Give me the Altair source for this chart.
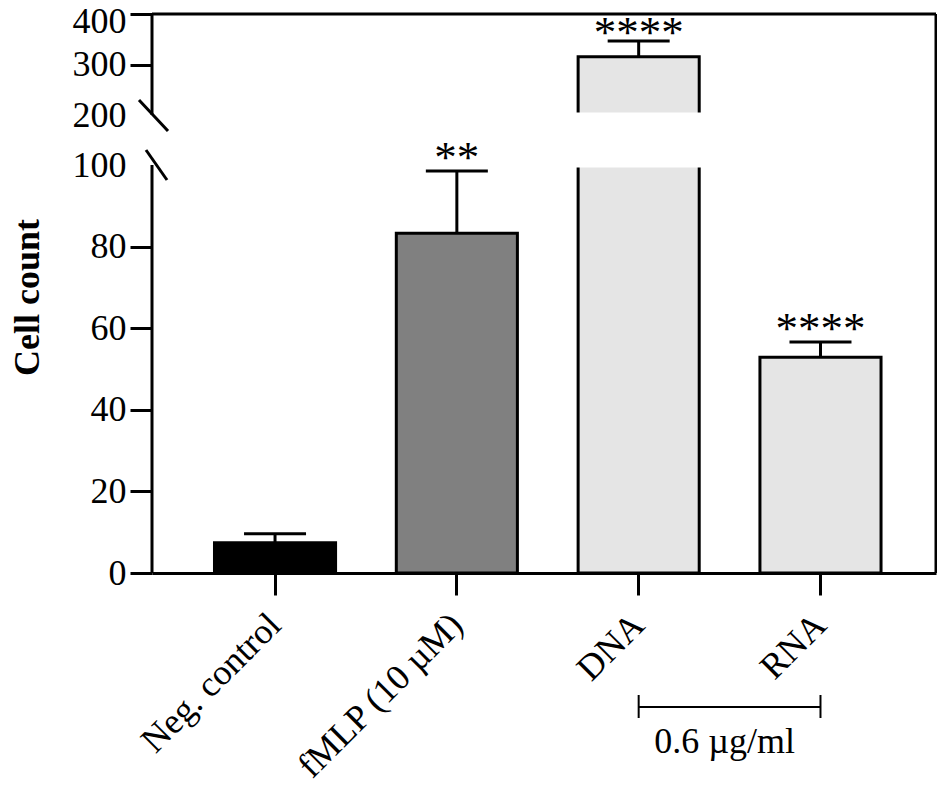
import altair as alt
import pandas as pd

# ---------------- data ----------------
categories = ["Neg. control", "fMLP (10 µM)", "DNA", "RNA"]
means = [7.4, 83.3, 315.5, 52.9]
err_top = [9.6, 98.5, 346.5, 56.6]
stars = ["", "**", "****", "****"]
fills = ["#000000", "#808080", "#e5e5e5", "#e5e5e5"]

y_ticks = [0, 20, 40, 60, 80, 100, 200, 300, 400]
break_lo, break_hi, y_top = 100, 200, 400
bracket_groups = ["DNA", "RNA"]
bracket_label = "0.6 µg/ml"

# ---------------- layout / style ----------------
W, H = 784, 559
Y_RANGE = [H, 151, 101, 0]          # pixel range of the broken axis
FONT = "Liberation Serif"

df = pd.DataFrame({"group": categories, "mean": means, "top": err_top, "stars": stars})
segs = pd.DataFrame({"lo": [0, break_hi], "hi": [break_lo, y_top]})
br = pd.DataFrame({"g": bracket_groups})
one = pd.DataFrame({"k": [1]})

yscale = alt.Scale(domain=[0, break_lo, break_hi, y_top], range=Y_RANGE, nice=False)
xscale = alt.Scale(domain=categories, paddingInner=0.334, paddingOuter=0.323, align=0.532)

yaxis = alt.Axis(
    values=y_ticks, domain=False, grid=False, labelOverlap=False,
    tickSize=22, tickWidth=3, tickColor="black",
    tickOpacity={"condition": {"test": f"datum.value == {break_lo} || datum.value == {break_hi}", "value": 0}, "value": 1},
    labelOffset={"condition": {"test": f"datum.value == {y_top}", "value": 7}, "value": 0},
    labelFont=FONT, labelFontSize=36, labelColor="black", labelPadding=4,
    title="Cell count", titleFont=FONT, titleFontSize=36, titleFontWeight="bold",
    titleColor="black", titleX=-114, titleY=283, titleBaseline="alphabetic", titleAngle=270,
)
xaxis = alt.Axis(
    labelAngle=-45, labelAlign="right", labelBaseline="top",
    labelFont=FONT, labelFontSize=36, labelColor="black", labelPadding=12, labelOffset=-12,
    labelLimit=500,
    tickSize=22, tickWidth=3, tickColor="black",
    domainWidth=3, domainColor="black", grid=False, title=None,
)


def xe(field="group:N"):
    return alt.X(field, scale=xscale, axis=xaxis, sort=categories)


def ye(field):
    return alt.Y(field, scale=yscale, axis=yaxis)


base = alt.Chart(df)

bars = base.mark_bar(stroke="black", strokeWidth=3).encode(
    x=xe(), y=ye("mean:Q"),
    fill=alt.Fill("group:N", scale=alt.Scale(domain=categories, range=fills), legend=None),
)

gap = base.transform_filter(f"datum.mean > {break_hi}").transform_calculate(
    lo=f"{break_lo}", hi=f"{break_hi}"
).mark_bar(fill="white", stroke="white", strokeWidth=5).encode(
    x=xe(), y=ye("lo:Q"), y2="hi:Q"
)

err = base.mark_rule(color="black", strokeWidth=3).encode(x=xe(), y=ye("mean:Q"), y2="top:Q")
cap = base.mark_tick(color="black", thickness=3, size=62, opacity=1).encode(x=xe(), y=ye("top:Q"))
sig_lo = base.transform_filter(f"datum.top <= {break_lo}").mark_text(
    font=FONT, fontSize=45, baseline="alphabetic", color="black", dy=1
).encode(x=xe(), y=ye("top:Q"), text="stars:N")
sig_hi = base.transform_filter(f"datum.top > {break_hi}").mark_text(
    font=FONT, fontSize=45, baseline="alphabetic", color="black", dy=6
).encode(x=xe(), y=ye("top:Q"), text="stars:N")

axis_line = alt.Chart(segs).mark_rule(color="black", strokeWidth=3).encode(
    x=alt.value(0), y=ye("lo:Q"), y2="hi:Q"
)
slash_lo = alt.Chart(one).mark_rule(color="black", strokeWidth=3).encode(
    x=alt.value(-6), x2=alt.value(15), y=alt.value(Y_RANGE[1] - 15), y2=alt.value(Y_RANGE[1] + 15)
)
slash_hi = alt.Chart(one).mark_rule(color="black", strokeWidth=3).encode(
    x=alt.value(-13), x2=alt.value(16), y=alt.value(Y_RANGE[2] - 15), y2=alt.value(Y_RANGE[2] + 16)
)
frame_top = alt.Chart(one).mark_rule(color="black", strokeWidth=3).encode(
    x=alt.value(0), x2=alt.value(W), y=alt.value(0)
)
frame_right = alt.Chart(one).mark_rule(color="black", strokeWidth=3).encode(
    x=alt.value(W), y=alt.value(0), y2=alt.value(H)
)

br_line = alt.Chart(br).mark_line(color="black", strokeWidth=2).encode(x=xe("g:N"), y=alt.value(693))
br_caps = alt.Chart(br).mark_rule(color="black", strokeWidth=2).encode(
    x=xe("g:N"), y=alt.value(681), y2=alt.value(704)
)
br_text = alt.Chart(br.iloc[:1]).mark_text(
    font=FONT, fontSize=36, color="black", baseline="middle", align="center", dx=86
).encode(x=xe("g:N"), y=alt.value(728), text=alt.value(bracket_label))

chart = alt.layer(
    bars, gap, err, cap, sig_lo, sig_hi, axis_line, slash_lo, slash_hi, frame_top, frame_right,
    br_line, br_caps, br_text,
).properties(
    width=W, height=H,
    autosize=alt.AutoSizeParams(type="none"),
    padding={"left": 144, "top": 6, "right": 1, "bottom": 206},
    background="white",
).configure_view(strokeWidth=0)

chart.save("out.html", embed_options={"renderer": "svg", "actions": False})
